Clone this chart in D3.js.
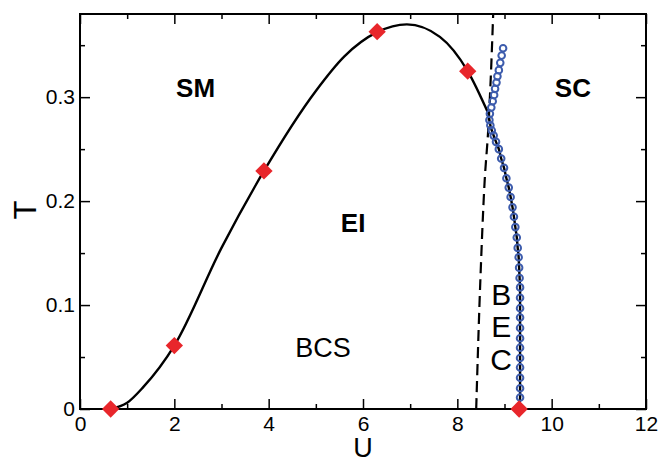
<!DOCTYPE html>
<html>
<head>
<meta charset="utf-8">
<script src="https://cdn.jsdelivr.net/npm/d3@7"></script>
<style>
  body { margin: 0; background: #fff; }
  svg text { font-family: "Liberation Sans", Arial, sans-serif; fill: #000; }
</style>
</head>
<body>
<div id="chart"></div>
<script>
// red diamonds: transition points (U, T)
const diamondU = [0.65, 2.0, 3.9, 6.3, 8.22, 9.31];
const diamondT = [0.0, 0.061, 0.229, 0.363, 0.325, 0.0];

// solid boundary, the dome part (U, T)
const domeU = [0.65, 1.0, 1.34, 2.0, 3.0, 3.9, 5.0, 5.6, 6.3, 6.93, 7.63, 8.22, 8.67];
const domeT = [0.0, 0.006, 0.021, 0.061, 0.155, 0.229, 0.306, 0.339, 0.3625, 0.370, 0.358, 0.325, 0.283];

// blue open circles (U, T)
const circleU = [8.97, 8.94, 8.91, 8.88, 8.85, 8.83, 8.80, 8.78, 8.75, 8.72, 8.69, 8.68, 8.70, 8.73, 8.77, 8.82, 8.88, 8.93, 8.99, 9.04, 9.09, 9.13, 9.17, 9.20, 9.23, 9.26, 9.28, 9.30, 9.31, 9.32, 9.33, 9.33, 9.33, 9.33, 9.33, 9.33, 9.33, 9.33, 9.33, 9.33, 9.33, 9.33];
const circleT = [0.347, 0.340, 0.333, 0.326, 0.320, 0.314, 0.308, 0.302, 0.296, 0.290, 0.284, 0.278, 0.273, 0.268, 0.263, 0.257, 0.250, 0.241, 0.232, 0.222, 0.213, 0.204, 0.194, 0.185, 0.175, 0.165, 0.155, 0.146, 0.136, 0.126, 0.117, 0.107, 0.097, 0.088, 0.078, 0.068, 0.059, 0.049, 0.040, 0.030, 0.020, 0.011];

// dashed line (U, T)
const dashU = [8.40, 8.48, 8.58, 8.65, 8.71, 8.76];
const dashT = [0.0, 0.114, 0.22, 0.265, 0.32, 0.38];

const xMajor = [0, 2, 4, 6, 8, 10, 12];
const xMinor = [1, 3, 5, 7, 9, 11];
const yMajor = [0, 0.1, 0.2, 0.3];
const yMinor = [0.05, 0.15, 0.25, 0.35];

const labels = [
  { text: "SM", u: 2.45, t: 0.3, bold: true },
  { text: "SC", u: 10.45, t: 0.3, bold: true },
  { text: "EI", u: 5.79, t: 0.17, bold: true },
  { text: "BCS", u: 5.15, t: 0.05, bold: false }
];
const becLetters = ["B", "E", "C"];
const becT = [0.1, 0.069, 0.038];

const W = 661, H = 462;
const svg = d3.select("#chart").append("svg").attr("width", W).attr("height", H);

const x = d3.scaleLinear().domain([0, 12]).range([80, 646]);
const y = d3.scaleLinear().domain([0, 0.38]).range([409, 14]);

// axes: inward ticks on all four sides
function drawAxis(gen, tr, vals, size, labelsOn) {
  const g = svg.append("g").attr("transform", tr)
    .call(gen.tickValues(vals).tickSize(-size).tickSizeOuter(0)
      .tickFormat(labelsOn ? d3.format("") : ""));
  g.select(".domain").remove();
  g.selectAll(".tick line").attr("stroke", "#000").attr("stroke-width", 1.5);
  return g;
}
const gx = drawAxis(d3.axisBottom(x).tickPadding(7), "translate(0,409)", xMajor, 10, true);
drawAxis(d3.axisBottom(x), "translate(0,409)", xMinor, 5, false);
drawAxis(d3.axisTop(x), "translate(0,14)", xMajor, 10, false);
drawAxis(d3.axisTop(x), "translate(0,14)", xMinor, 5, false);
const gy = drawAxis(d3.axisLeft(y).tickPadding(5), "translate(80,0)", yMajor, 10, true);
drawAxis(d3.axisLeft(y), "translate(80,0)", yMinor, 5, false);
drawAxis(d3.axisRight(y), "translate(646,0)", yMajor, 10, false);
drawAxis(d3.axisRight(y), "translate(646,0)", yMinor, 5, false);
gx.selectAll("text").attr("font-size", 21).attr("font-family", "Liberation Sans, Arial, sans-serif");
gy.selectAll("text").attr("font-size", 21).attr("font-family", "Liberation Sans, Arial, sans-serif");

svg.append("rect").attr("x", 80).attr("y", 14).attr("width", 566).attr("height", 395)
  .attr("fill", "none").attr("stroke", "#000").attr("stroke-width", 2);

// axis titles
svg.append("text").attr("x", 363).attr("y", 457).attr("text-anchor", "middle")
  .attr("font-size", 27).text("U");
svg.append("text").attr("transform", "translate(36,210) rotate(-90)")
  .attr("text-anchor", "middle").attr("font-size", 31).text("T");

const smooth = d3.line().x(d => x(d[0])).y(d => y(d[1])).curve(d3.curveMonotoneX);
const line = d3.line().x(d => x(d[0])).y(d => y(d[1])).curve(d3.curveCatmullRom.alpha(0.5));

// dashed line
const dashPts = dashU.map((u, i) => [u, dashT[i]]);
svg.append("path").attr("d", line(dashPts)).attr("fill", "none")
  .attr("stroke", "#000").attr("stroke-width", 2.2).attr("stroke-dasharray", "11,6");

// solid boundary: dome, then the lower branch of the circles
const domePts = domeU.map((u, i) => [u, domeT[i]]);
svg.append("path").attr("d", smooth(domePts)).attr("fill", "none")
  .attr("stroke", "#000").attr("stroke-width", 2.4);
const lowerPts = [[8.67, 0.283]].concat(
  circleU.map((u, i) => [u, circleT[i]]).filter(d => d[1] < 0.28),
  [[diamondU[5], 0]]);
svg.append("path").attr("d", line(lowerPts)).attr("fill", "none")
  .attr("stroke", "#000").attr("stroke-width", 2.4);

// blue circles
svg.append("g").selectAll("circle")
  .data(circleU.map((u, i) => [u, circleT[i]]))
  .join("circle")
  .attr("cx", d => x(d[0])).attr("cy", d => y(d[1])).attr("r", 3.3)
  .attr("fill", "none").attr("stroke", "#3d5cad").attr("stroke-width", 2);

// red diamonds
svg.append("g").selectAll("path")
  .data(diamondU.map((u, i) => [u, diamondT[i]]))
  .join("path")
  .attr("d", d3.symbol().type(d3.symbolSquare).size(150))
  .attr("transform", d => `translate(${x(d[0])},${y(d[1])}) rotate(45)`)
  .attr("fill", "#e8262b");

// region labels
svg.append("g").selectAll("text").data(labels).join("text")
  .attr("x", d => x(d.u)).attr("y", d => y(d.t))
  .attr("text-anchor", "middle")
  .attr("font-size", d => d.bold ? 26 : 27)
  .attr("font-weight", d => d.bold ? "bold" : "normal")
  .text(d => d.text);

svg.append("g").selectAll("text").data(becLetters).join("text")
  .attr("x", x(8.93)).attr("y", (d, i) => y(becT[i]))
  .attr("text-anchor", "middle").attr("font-size", 30)
  .text(d => d);
</script>
</body>
</html>
